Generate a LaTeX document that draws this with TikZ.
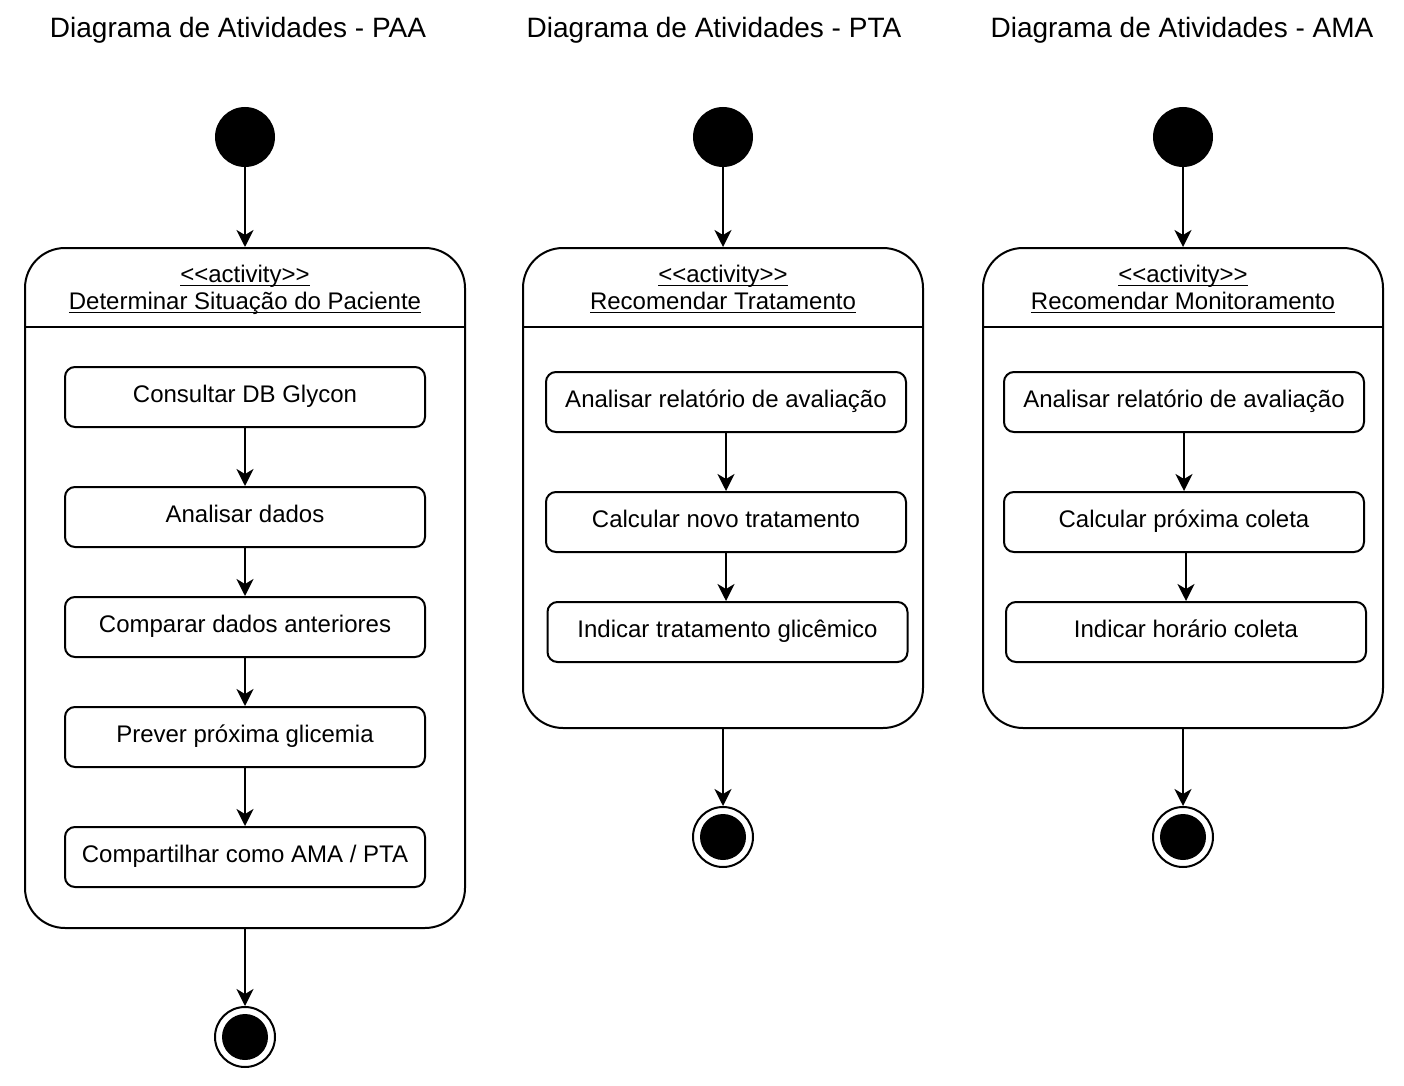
\documentclass[tikz,border=0pt]{standalone}
\usepackage{fontspec}
\setmainfont{Liberation Sans}
\usetikzlibrary{positioning, calc, arrows.meta}

\tikzset{
  flow/.style={-{Stealth[length=8.5pt, width=8.5pt, inset=2.5pt]}, line width=1pt},
  activity/.style={draw, line width=1pt, rounded corners=20pt, anchor=north, inner sep=0pt},
  action/.style={draw, line width=1pt, rounded corners=5pt, minimum width=180pt, minimum height=30pt,
    inner sep=0pt, text height=0.72em, text depth=0.2em, font=\fontsize{12pt}{14pt}\selectfont},
  header/.style={align=center, inner sep=0pt, text depth=0.25em, font=\fontsize{12pt}{13.5pt}\selectfont},
  start state/.style={circle, fill=black, minimum size=30pt, inner sep=0pt},
  end state/.style={circle, draw, line width=1pt, minimum size=30pt, inner sep=0pt,
    path picture={\fill (path picture bounding box.center) circle (11.5pt);}},
  title/.style={font=\fontsize{14pt}{16pt}\selectfont}
}
\newcommand{\uln}[1]{\underline{\vphantom{A}\smash{#1}}}
\newcommand{\stereo}{\uln{<\kern0pt<activity>\kern0pt>}}

\begin{document}
\begin{tikzpicture}[x=0.5pt, y=-0.5pt, every node/.style={align=center}]
\useasboundingbox (0,0) rectangle (1404,1086);
% titulos
\node[title] (t-paa) at (238,30) {Diagrama de Atividades - PAA};
\node[title] (t-pta) at (714,30) {Diagrama de Atividades - PTA};
\node[title] (t-ama) at (1182,30) {Diagrama de Atividades - AMA};

% PAA
\node[start state] (s-paa) at (245,137) {};
\node[activity, minimum width=220pt, minimum height=340pt] (a-paa) at (245,247) {};
\node[header] (h-paa) at (245,290) {\stereo\\\uln{Determinar Situação do Paciente}};
\draw[line width=1pt] (a-paa.west |- 0,327) -- (a-paa.east |- 0,327);
\node[action] (paa-1) at (245,397) {Consultar DB Glycon};
\node[action] (paa-2) at (245,517) {Analisar dados};
\node[action] (paa-3) at (245,627) {Comparar dados anteriores};
\node[action] (paa-4) at (245,737) {Prever próxima glicemia};
\node[action] (paa-5) at (245,857) {Compartilhar como AMA / PTA};
\node[end state] (e-paa) at (245,1037) {};
\draw[flow] (s-paa) -- (a-paa.north);
\draw[flow] (paa-1) -- (paa-2);
\draw[flow] (paa-2) -- (paa-3);
\draw[flow] (paa-3) -- (paa-4);
\draw[flow] (paa-4) -- (paa-5);
\draw[flow] (a-paa.south) -- (e-paa);

% PTA
\node[start state] (s-pta) at (723,137) {};
\node[activity, minimum width=200pt, minimum height=240pt] (a-pta) at (723,247) {};
\node[header] (h-pta) at (723,290) {\stereo\\\uln{Recomendar Tratamento}};
\draw[line width=1pt] (a-pta.west |- 0,327) -- (a-pta.east |- 0,327);
\node[action] (pta-1) at (726,402) {Analisar relatório de avaliação};
\node[action] (pta-2) at (726,522) {Calcular novo tratamento};
\node[action] (pta-3) at (727.5,632) {Indicar tratamento glicêmico};
\node[end state] (e-pta) at (723,837) {};
\draw[flow] (s-pta) -- (a-pta.north);
\draw[flow] (pta-1) -- (pta-2);
\draw[flow] (pta-2.south) -- (pta-2.south |- pta-3.north);
\draw[flow] (a-pta.south) -- (e-pta);

% AMA
\node[start state] (s-ama) at (1183,137) {};
\node[activity, minimum width=200pt, minimum height=240pt] (a-ama) at (1183,247) {};
\node[header] (h-ama) at (1183,290) {\stereo\\\uln{Recomendar Monitoramento}};
\draw[line width=1pt] (a-ama.west |- 0,327) -- (a-ama.east |- 0,327);
\node[action] (ama-1) at (1184,402) {Analisar relatório de avaliação};
\node[action] (ama-2) at (1184,522) {Calcular próxima coleta};
\node[action] (ama-3) at (1186,632) {Indicar horário coleta};
\node[end state] (e-ama) at (1183,837) {};
\draw[flow] (s-ama) -- (a-ama.north);
\draw[flow] (ama-1) -- (ama-2);
\draw[flow] (ama-3.north |- ama-2.south) -- (ama-3.north);
\draw[flow] (a-ama.south) -- (e-ama);
\end{tikzpicture}
\end{document}
